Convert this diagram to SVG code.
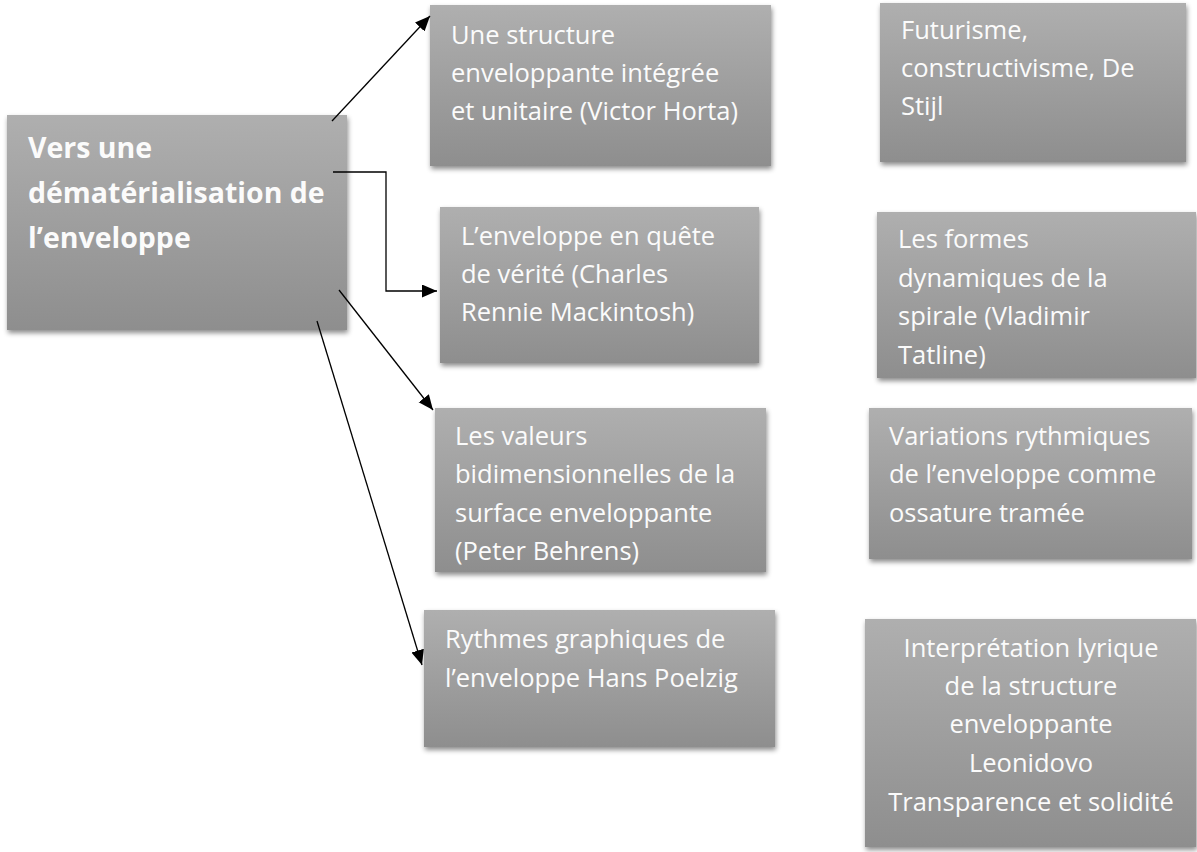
<svg xmlns="http://www.w3.org/2000/svg" width="1197" height="852" viewBox="0 0 1197 852">
<defs>
<linearGradient id="g" x1="0" y1="0" x2="0" y2="1">
<stop offset="0" stop-color="#afafaf"/>
<stop offset="1" stop-color="#8e8e8e"/>
</linearGradient>
<filter id="sh" x="-10%" y="-10%" width="125%" height="130%">
<feDropShadow dx="1" dy="3" stdDeviation="2.5" flood-color="#000" flood-opacity="0.45"/>
</filter>
<marker id="ah" markerUnits="userSpaceOnUse" markerWidth="16" markerHeight="14" refX="15" refY="6.5" orient="auto">
<path d="M0,0 L15,6.5 L0,13 z" fill="#000"/>
</marker>
</defs>
<style>
.box{fill:url(#g);filter:url(#sh);}
.t{font-family:"Open Sans","Noto Sans",sans-serif;font-size:25.5px;fill:#fbfbfb;}
.tb{font-family:"Open Sans","Noto Sans",sans-serif;font-size:28.5px;font-weight:bold;fill:#fbfbfb;}
.c{fill:none;stroke:#000;stroke-width:1.3;marker-end:url(#ah);}
</style>
<rect width="1197" height="852" fill="#fff"/>

<g id="main">
<rect class="box" x="7" y="115" width="340" height="215"/>
<text class="tb" x="28"><tspan x="28" y="158">Vers une</tspan><tspan x="28" y="203">dématérialisation de</tspan><tspan x="28" y="248">l’enveloppe</tspan></text>
</g>

<g id="horta">
<rect class="box" x="430" y="5" width="341" height="161"/>
<text class="t"><tspan x="451" y="44">Une structure</tspan><tspan x="451" y="82">enveloppante intégrée</tspan><tspan x="451" y="120">et unitaire (Victor Horta)</tspan></text>
</g>

<g id="mackintosh">
<rect class="box" x="440" y="207" width="319" height="156"/>
<text class="t"><tspan x="461" y="245">L’enveloppe en quête</tspan><tspan x="461" y="283">de vérité (Charles</tspan><tspan x="461" y="321">Rennie Mackintosh)</tspan></text>
</g>

<g id="behrens">
<rect class="box" x="435" y="408" width="331" height="164"/>
<text class="t"><tspan x="455" y="445">Les valeurs</tspan><tspan x="455" y="483">bidimensionnelles de la</tspan><tspan x="455" y="522">surface enveloppante</tspan><tspan x="455" y="560">(Peter Behrens)</tspan></text>
</g>

<g id="poelzig">
<rect class="box" x="424" y="610" width="351" height="137"/>
<text class="t"><tspan x="445" y="648">Rythmes graphiques de</tspan><tspan x="445" y="687">l’enveloppe Hans Poelzig</tspan></text>
</g>

<g id="futurisme">
<rect class="box" x="880" y="3" width="306" height="159"/>
<text class="t"><tspan x="901" y="39">Futurisme,</tspan><tspan x="901" y="77">constructivisme, De</tspan><tspan x="901" y="115">Stijl</tspan></text>
</g>

<g id="tatline">
<rect class="box" x="877" y="212" width="319" height="166"/>
<text class="t"><tspan x="898" y="248">Les formes</tspan><tspan x="898" y="287">dynamiques de la</tspan><tspan x="898" y="325">spirale (Vladimir</tspan><tspan x="898" y="364">Tatline)</tspan></text>
</g>

<g id="variations">
<rect class="box" x="869" y="408" width="323" height="151"/>
<text class="t"><tspan x="889" y="445">Variations rythmiques</tspan><tspan x="889" y="483">de l’enveloppe comme</tspan><tspan x="889" y="522">ossature tramée</tspan></text>
</g>

<g id="leonidov">
<rect class="box" x="865" y="619" width="331" height="228"/>
<text class="t" text-anchor="middle"><tspan x="1031" y="657">Interprétation lyrique</tspan><tspan x="1031" y="695">de la structure</tspan><tspan x="1031" y="733">enveloppante</tspan><tspan x="1031" y="772">Leonidovo</tspan><tspan x="1031" y="811">Transparence et solidité</tspan></text>
</g>

<g id="connectors">
<path class="c" d="M332,121 L430,16"/>
<path class="c" d="M333,172 L386,172 L386,291 L437,291"/>
<path class="c" d="M339,290 L433,410"/>
<path class="c" d="M317,321 L422,665"/>
</g>
</svg>
